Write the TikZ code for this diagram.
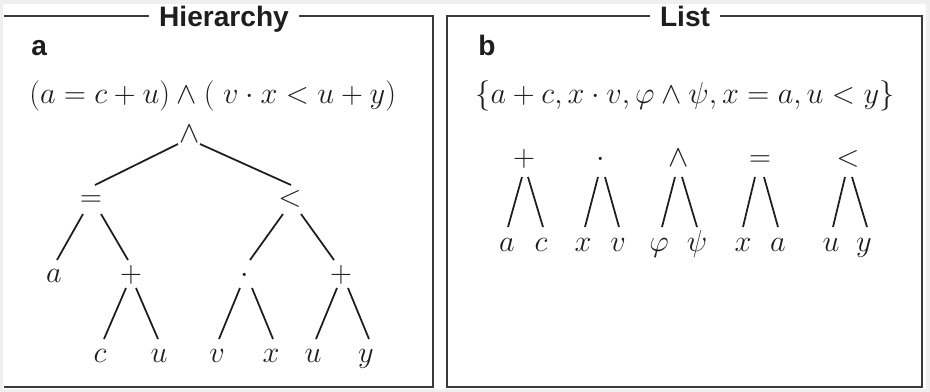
\documentclass[tikz,border=0pt]{standalone}
\usepackage{fontspec}
\setsansfont{Liberation Sans}
\definecolor{ink}{HTML}{1E1E1E}
\definecolor{framegray}{HTML}{3A3A3A}
\definecolor{paper}{HTML}{EFEFEF}
\tikzset{
  panel/.style={draw=framegray, line width=1.1pt},
  paneltitle/.style={fill=white, inner xsep=5.5pt, inner ysep=1pt, anchor=base, text=ink,
    font=\sffamily\bfseries\fontsize{16}{19}\selectfont},
  tag/.style={anchor=base west, inner sep=0pt, text=ink, font=\sffamily\bfseries\fontsize{16}{19}\selectfont},
  formula/.style={anchor=base west, inner sep=0pt, text=ink, font=\fontsize{16}{19}\selectfont},
  sym/.style={anchor=base, inner sep=0pt, text=ink, font=\fontsize{16}{19}\selectfont},
  branch/.style={draw=ink, line width=1pt},
}
\begin{document}
\begin{tikzpicture}[x=0.02cm, y=-0.02cm]
    % Fondo y marcos
    \fill[paper] (0,0) rectangle (930,392);
    \useasboundingbox (0,0) rectangle (930,392);
    \fill[white] (3,4) rectangle (926,389);
    \draw[panel] (4,16) -- (433,16) -- (433,387) -- (4,387);
    \draw[panel] (447,16) rectangle (922,387);
    \node[paneltitle] (hier) at (224,27) {Hierarchy};
    \node[paneltitle] (list) at (685,27) {List};

    % Panel a
    \node[tag] (taga) at (31,55) {a};
    \node[formula] (forma) at (29,103) {$(a=c+u)\wedge(\;v\cdot x<u+y)$};

    \node[sym] (root) at (190,142) {$\wedge$};
    \node[sym] (eq) at (91,206) {$=$};
    \node[sym] (lt) at (290,206) {$<$};
    \node[sym] (a) at (54,282) {$a$};
    \node[sym] (plusL) at (131,282) {$+$};
    \node[sym] (dot) at (245,282) {$\cdot$};
    \node[sym] (plusR) at (341,282) {$+$};
    \node[sym] (c) at (100,362) {$c$};
    \node[sym] (u1) at (159,362) {$u$};
    \node[sym] (v) at (217,362) {$v$};
    \node[sym] (x) at (271,362) {$x$};
    \node[sym] (u2) at (313,362) {$u$};
    \node[sym] (y) at (366,362) {$y$};

    \draw[branch] ([shift={(-12,2)}]root.base) -- ([shift={(4,-21)}]eq.base);
    \draw[branch] ([shift={(10,2)}]root.base) -- ([shift={(1,-21)}]lt.base);
    \draw[branch] ([shift={(-8,8)}]eq.base) -- ([shift={(3,-22)}]a.base);
    \draw[branch] ([shift={(10,8)}]eq.base) -- ([shift={(-3,-22)}]plusL.base);
    \draw[branch] ([shift={(-7,8)}]lt.base) -- ([shift={(5,-22)}]dot.base);
    \draw[branch] ([shift={(11,8)}]lt.base) -- ([shift={(-7,-22)}]plusR.base);
    \draw[branch] ([shift={(-5,6)}]plusL.base) -- ([shift={(4,-23)}]c.base);
    \draw[branch] ([shift={(5,6)}]plusL.base) -- ([shift={(-1,-23)}]u1.base);
    \draw[branch] ([shift={(-5,6)}]dot.base) -- ([shift={(2,-23)}]v.base);
    \draw[branch] ([shift={(7,6)}]dot.base) -- ([shift={(2,-23)}]x.base);
    \draw[branch] ([shift={(-4,6)}]plusR.base) -- ([shift={(3,-23)}]u2.base);
    \draw[branch] ([shift={(7,6)}]plusR.base) -- ([shift={(3,-23)}]y.base);

    % Panel b
    \node[tag] (tagb) at (478,55) {b};
    \node[formula] (formb) at (475,103) {$\{a+c, x\cdot v, \varphi\wedge\psi, x=a, u<y\}$};

    \node[sym] (plusB) at (524,166) {$+$};
    \node[sym] (dotB) at (601,166) {$\cdot$};
    \node[sym] (andB) at (679,166) {$\wedge$};
    \node[sym] (eqB) at (760,166) {$=$};
    \node[sym] (ltB) at (848,166) {$<$};
    \node[sym] (aB) at (507,251) {$a$};
    \node[sym] (cB) at (541,251) {$c$};
    \node[sym] (xB) at (583,251) {$x$};
    \node[sym] (vB) at (618,251) {$v$};
    \node[sym] (phiB) at (659,251) {$\varphi$};
    \node[sym] (psiB) at (697,251) {$\psi$};
    \node[sym] (xC) at (743,251) {$x$};
    \node[sym] (aC) at (778,251) {$a$};
    \node[sym] (uB) at (831,251) {$u$};
    \node[sym] (yB) at (864,251) {$y$};

    \draw[branch] ([shift={(-2,11)}]plusB.base) -- ([shift={(1,-24)}]aB.base);
    \draw[branch] ([shift={(4,11)}]plusB.base) -- ([shift={(2,-24)}]cB.base);
    \draw[branch] ([shift={(-3,11)}]dotB.base) -- ([shift={(2,-24)}]xB.base);
    \draw[branch] ([shift={(4,11)}]dotB.base) -- ([shift={(1,-24)}]vB.base);
    \draw[branch] ([shift={(-4,11)}]andB.base) -- ([shift={(3,-24)}]phiB.base);
    \draw[branch] ([shift={(3,11)}]andB.base) -- ([shift={(0,-24)}]psiB.base);
    \draw[branch] ([shift={(-5,11)}]eqB.base) -- ([shift={(0,-24)}]xC.base);
    \draw[branch] ([shift={(4,11)}]eqB.base) -- ([shift={(0,-24)}]aC.base);
    \draw[branch] ([shift={(-3,11)}]ltB.base) -- ([shift={(2,-24)}]uB.base);
    \draw[branch] ([shift={(4,11)}]ltB.base) -- ([shift={(3,-24)}]yB.base);
\end{tikzpicture}
\end{document}
